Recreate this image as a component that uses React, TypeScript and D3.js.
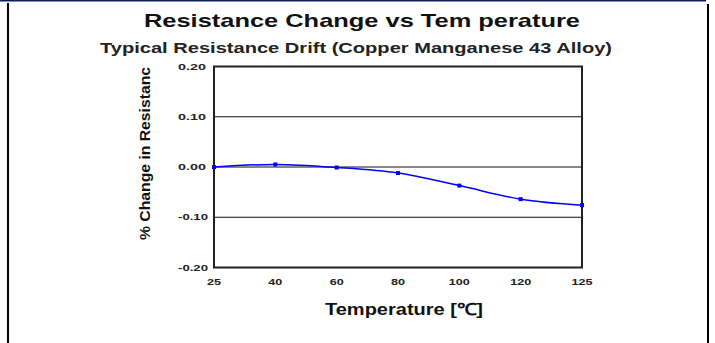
import React from 'react';
import * as d3 from 'd3';

const title = 'Resistance Change vs Tem perature';
const subtitle = 'Typical Resistance Drift (Copper Manganese 43 Alloy)';
const yTitle = '% Change in Resistanc';
const xTitle = 'Temperature [\u2103]';

const temps = ['25', '40', '60', '80', '100', '120', '125'];
const drift = [0.0, 0.005, -0.001, -0.012, -0.037, -0.064, -0.076];
const yTicks = [0.2, 0.1, 0.0, -0.1, -0.2];

const W = 715;
const H = 343;
const font = '"Liberation Sans", Arial, sans-serif';

export default function App() {
  const x = d3.scalePoint<string>().domain(temps).range([214, 582]);
  const y = d3.scaleLinear().domain([-0.2, 0.2]).range([267.5, 66.5]);

  const points = temps.map((t, i) => [x(t) as number, y(drift[i])] as [number, number]);
  const line = d3.line().curve(d3.curveCatmullRom.alpha(0.5))(points) || '';

  const [x0, x1] = x.range();
  const [yb, yt] = y.range();

  return (
    <svg
      width={W}
      height={H}
      style={{ position: 'absolute', left: 0, top: 0, background: '#fff' }}
      fontFamily={font}
    >
      {/* page frame */}
      <rect x={0} y={0} width={706} height={1.5} fill="#0b1f5c" />
      <rect x={7} y={3} width={2} height={H - 3} fill="#000" />
      <rect x={707} y={4} width={2} height={H - 4} fill="#000" />

      {/* titles */}
      <text x={362} y={26.5} textAnchor="middle" fontSize={19} fontWeight="bold" fill="#111"
        textLength={436} lengthAdjust="spacingAndGlyphs">{title}</text>
      <text x={356} y={52.5} textAnchor="middle" fontSize={15.5} fontWeight="bold" fill="#222"
        textLength={512} lengthAdjust="spacingAndGlyphs">{subtitle}</text>

      {/* gridlines */}
      {yTicks.filter((v) => v !== 0.2 && v !== -0.2).map((v) => (
        <line key={v} x1={x0} x2={x1} y1={y(v)} y2={y(v)} stroke="#111" strokeWidth={1} />
      ))}
      <rect x={x0} y={yt} width={x1 - x0} height={yb - yt} fill="none" stroke="#222" strokeWidth={2} />

      {/* y ticks */}
      {yTicks.map((v) => (
        <text key={v} x={178} y={y(v)} dy="0.36em" fontSize={9} fontWeight="bold" fill="#222"
          textLength={v < 0 ? 30 : 28} lengthAdjust="spacingAndGlyphs">{v.toFixed(2)}</text>
      ))}

      {/* x ticks */}
      {temps.map((t) => (
        <text key={t} x={x(t) as number} y={285} textAnchor="middle" fontSize={9}
          fontWeight="bold" fill="#222" textLength={t.length * 7} lengthAdjust="spacingAndGlyphs">{t}</text>
      ))}

      {/* axis titles */}
      <text transform="translate(150,153.5) rotate(-90)" textAnchor="middle" fontSize={15}
        fontWeight="bold" fill="#111" textLength={173} lengthAdjust="spacingAndGlyphs">{yTitle}</text>
      <text x={404} y={315} textAnchor="middle" fontSize={16.5} fontWeight="bold" fill="#111"
        textLength={158} lengthAdjust="spacingAndGlyphs">{xTitle}</text>

      {/* series */}
      <path d={line} fill="none" stroke="#0000ff" strokeWidth={1.5} />
      {points.map(([px, py], i) => (
        <rect key={temps[i]} x={px - 2} y={py - 2} width={4} height={4} fill="#0000ff" />
      ))}
    </svg>
  );
}
